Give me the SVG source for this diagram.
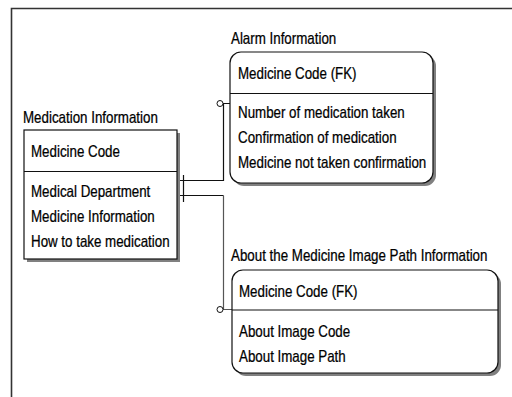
<svg xmlns="http://www.w3.org/2000/svg" width="512" height="397" viewBox="0 0 512 397">
<style>
.t{font-family:"Liberation Sans",Arial,sans-serif;font-size:16px;fill:#000;stroke:#000;stroke-width:0.25}
.box{fill:#fff;stroke:#111;stroke-width:1.2}
.sh{fill:#808080}
.div{stroke:#111;stroke-width:1.2}
.ln{stroke:#111;stroke-width:1.2;fill:none}
.circ{fill:#fff;stroke:#111;stroke-width:1}
</style>
<rect width="512" height="397" fill="#fff"/>
<g id="frame">
<path d="M11.5,397 V8.5 H512" fill="none" stroke="#333" stroke-width="1.6"/>
</g>
<g id="connectors">
<path class="ln" d="M177,180.5 H223.5 V103.5 H230"/>
<path class="ln" d="M177,195.5 H223.5"/>
<path d="M223.5,195.5 V309.5 H232" fill="none" stroke="#555" stroke-width="1.2"/>
<path class="ln" d="M183.5,175 V202"/>
<circle class="circ" cx="220" cy="103.5" r="3"/>
<circle class="circ" cx="220" cy="309.5" r="3"/>
</g>
<g id="medication-information">
<text class="t" transform="translate(23,123) scale(0.834,1)">Medication Information</text>
<rect class="sh" x="27" y="133" width="153" height="129"/>
<rect class="box" x="24" y="130" width="153" height="129"/>
<line class="div" x1="24" y1="171.5" x2="177" y2="171.5"/>
<text class="t" transform="translate(31,157) scale(0.834,1)">Medicine Code</text>
<text class="t" transform="translate(31,197) scale(0.834,1)">Medical Department</text>
<text class="t" transform="translate(31,222) scale(0.834,1)">Medicine Information</text>
<text class="t" transform="translate(31,247) scale(0.834,1)">How to take medication</text>
</g>
<g id="alarm-information">
<text class="t" transform="translate(231,44) scale(0.834,1)">Alarm Information</text>
<rect class="sh" x="233" y="55" width="203" height="131" rx="11"/>
<rect class="box" x="230" y="52" width="203" height="131" rx="11"/>
<line class="div" x1="230" y1="93.5" x2="433" y2="93.5"/>
<text class="t" transform="translate(238,79) scale(0.834,1)">Medicine Code (FK)</text>
<text class="t" transform="translate(238,118) scale(0.834,1)">Number of medication taken</text>
<text class="t" transform="translate(238,143) scale(0.834,1)">Confirmation of medication</text>
<text class="t" transform="translate(238,168) scale(0.834,1)">Medicine not taken confirmation</text>
</g>
<g id="image-path-information">
<text class="t" transform="translate(231,261) scale(0.834,1)">About the Medicine Image Path Information</text>
<rect class="sh" x="235" y="273" width="266" height="103" rx="11"/>
<rect class="box" x="232" y="270" width="266" height="103" rx="11"/>
<line class="div" x1="232" y1="310" x2="498" y2="310"/>
<text class="t" transform="translate(239,297) scale(0.834,1)">Medicine Code (FK)</text>
<text class="t" transform="translate(239,337) scale(0.834,1)">About Image Code</text>
<text class="t" transform="translate(239,362) scale(0.834,1)">About Image Path</text>
</g>
</svg>
